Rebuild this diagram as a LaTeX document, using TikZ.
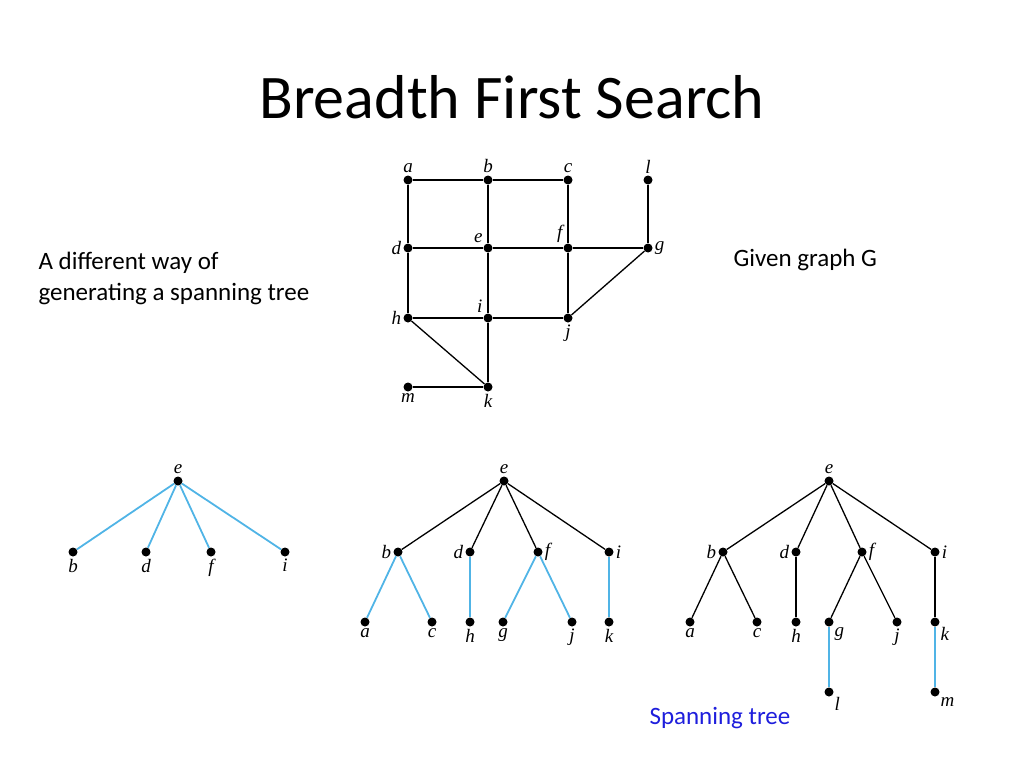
\documentclass[tikz,border=0pt]{standalone}
\usepackage{fontspec}
\setmainfont{Carlito}
\newfontfamily\lblfont{Liberation Serif}
\usepackage{xcolor}
\definecolor{treeblue}{RGB}{80,180,230}
\definecolor{txtblue}{RGB}{30,30,220}
\begin{document}
\begin{tikzpicture}[x=1pt,y=-1pt,
  vtx/.style={circle,fill=black,inner sep=0pt,minimum size=9pt},
  lbl/.style={font=\lblfont\itshape\fontsize{19}{19}\selectfont,inner sep=2pt},
  tedge/.style={treeblue,line width=1.8pt},
  gedge/.style={black,line width=1.3pt}]
	\useasboundingbox (0,0) rectangle (1024,768);
	
	% Title
	\node (title) at (512,97) {\fontsize{62}{62}\selectfont Breadth First Search};
	% Text Nodes
	\node[anchor=west,align=left,font=\fontsize{25}{31}\selectfont] (note) at (35,278) {A different way of\\generating a spanning tree};
	\node[anchor=west,font=\fontsize{25}{30}\selectfont] (given) at (730,260) {Given graph G};
	\node[anchor=west,font=\fontsize{25}{30}\selectfont,text=txtblue] (span) at (646,718) {Spanning tree};
	
	% Given graph
	\foreach \n/\x/\y/\p in {a/408/180/above, b/488/180/above, c/568/180/above, l/648/180/above,
	  d/408/248/left, e/488/248/above left, f/568/248/above left, g/648/248/right,
	  h/408/318/left, i/488/318/above left, j/568/318/below, m/408/387/below, k/488/387/below}
	  \node[vtx,label={[lbl]\p:\n}] (G\n) at (\x,\y) {};
	\foreach \u/\v in {a/b,b/c,a/d,b/e,c/f,l/g,d/e,e/f,f/g,d/h,e/i,f/j,g/j,h/i,i/j,h/k,i/k,m/k}
	  \draw[gedge] (G\u) -- (G\v);
	
	% First tree
	\node[vtx,label={[lbl]above:e}] (Ae) at (178,481) {};
	\foreach \n/\x in {b/73,d/146,f/211,i/285}{
	  \node[vtx,label={[lbl]below:\n}] (A\n) at (\x,552) {};
	  \draw[tedge] (Ae) -- (A\n);}
	
	% Second tree
	\node[vtx,label={[lbl]above:e}] (Be) at (504,481) {};
	\foreach \n/\x/\p in {b/398/left,d/470/left,f/538/right,i/609/right}{
	  \node[vtx,label={[lbl]\p:\n}] (B\n) at (\x,552) {};
	  \draw[gedge] (Be) -- (B\n);}
	\foreach \n/\x/\q in {a/365/b,c/432/b,h/470/d,g/503/f,j/572/f,k/609/i}{
	  \node[vtx,label={[lbl]below:\n}] (B\n) at (\x,622) {};
	  \draw[tedge] (B\q) -- (B\n);}
	
	% Third tree
	\node[vtx,label={[lbl]above:e}] (Ce) at (829,481) {};
	\foreach \n/\x/\p in {b/723/left,d/796/left,f/862/right,i/935/right}{
	  \node[vtx,label={[lbl]\p:\n}] (C\n) at (\x,552) {};
	  \draw[gedge] (Ce) -- (C\n);}
	\foreach \n/\x/\q/\p in {a/690/b/below,c/757/b/below,h/796/d/below,g/829/f/below right,j/897/f/below,k/935/i/below right}{
	  \node[vtx,label={[lbl]\p:\n}] (C\n) at (\x,622) {};
	  \draw[gedge] (C\q) -- (C\n);}
	\node[vtx,label={[lbl]below right:l}] (Cl) at (829,692) {};
	\node[vtx,label={[lbl]below right:m}] (Cm) at (935,692) {};
	\draw[tedge] (Cg) -- (Cl);
	\draw[tedge] (Ck) -- (Cm);
\end{tikzpicture}
\end{document}
